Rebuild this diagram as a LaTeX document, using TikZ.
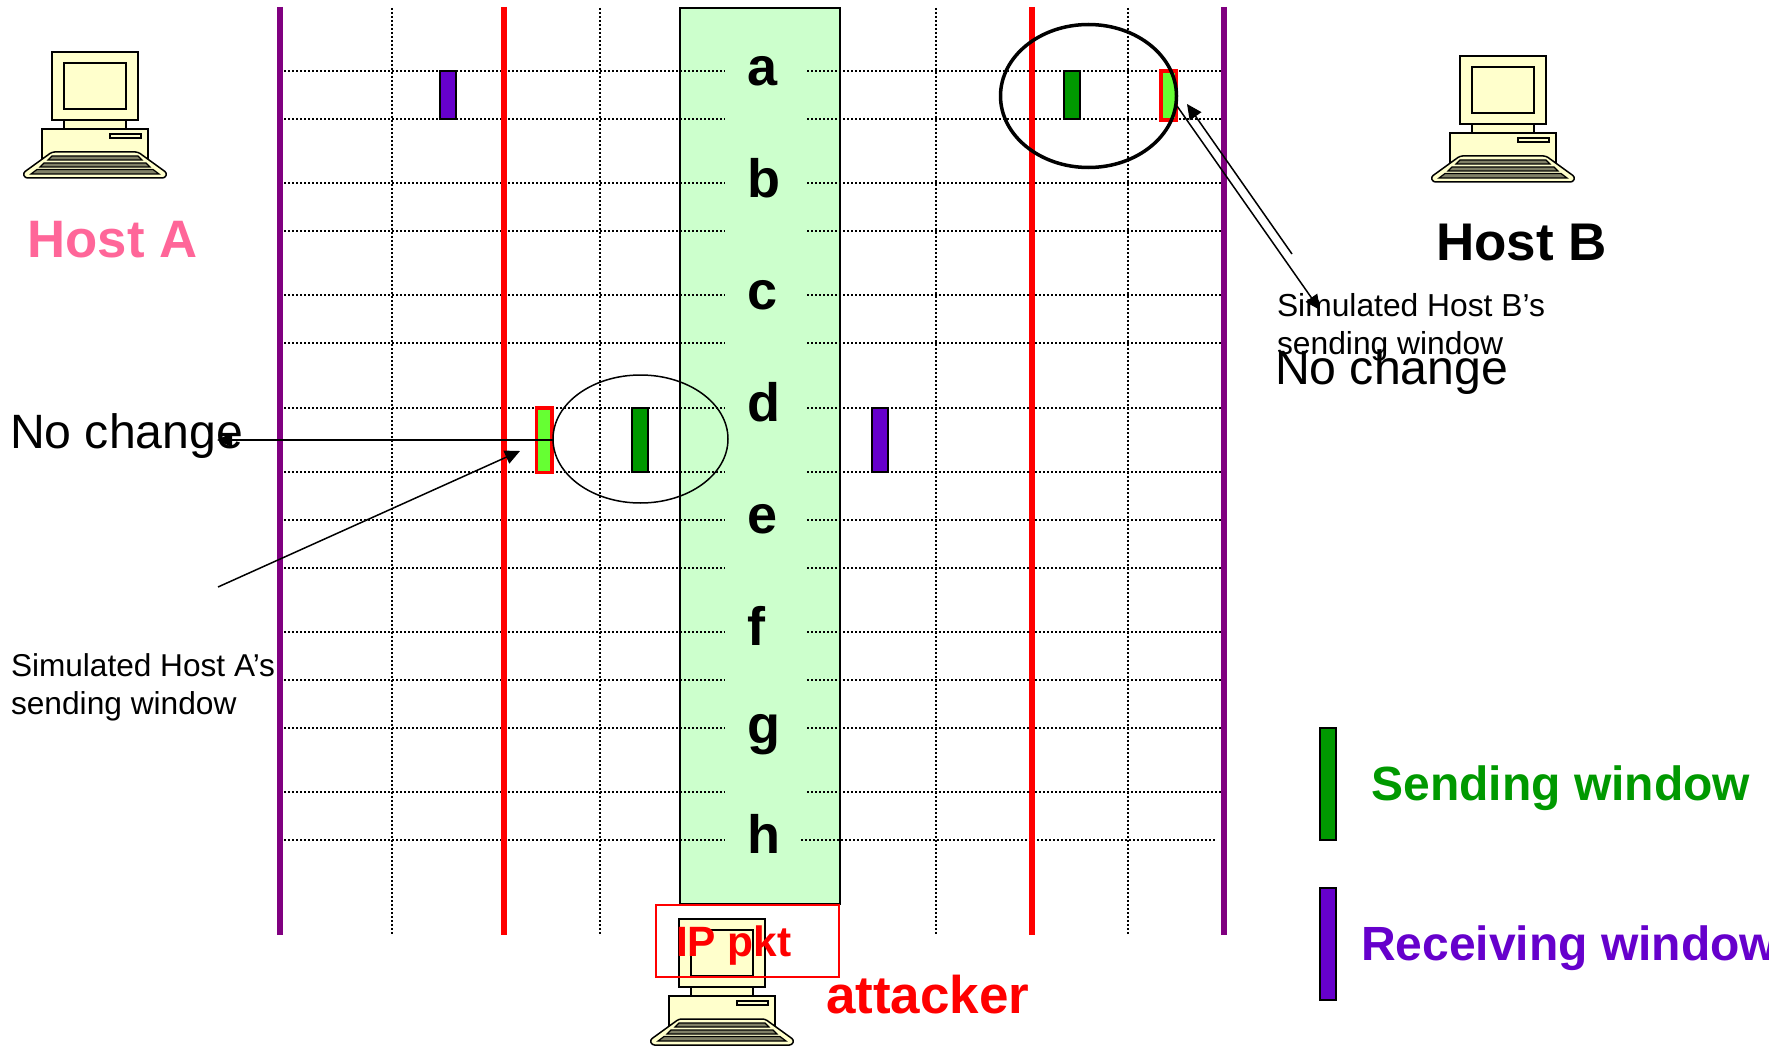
\documentclass[tikz,border=0pt]{standalone}
\usepackage{fontspec}
\setmainfont{Liberation Sans}
\usetikzlibrary{arrows.meta}
\definecolor{boxgreen}{HTML}{CCFFCC}
\definecolor{vpurple}{HTML}{800080}
\definecolor{brightgreen}{HTML}{66FF33}
\definecolor{sendgreen}{HTML}{009900}
\definecolor{recvpurple}{HTML}{6600CC}
\definecolor{hostpink}{HTML}{FF6699}
\definecolor{cream}{HTML}{FFFFCC}
\definecolor{keygray}{HTML}{808066}
\newcommand{\fs}[1]{\fontsize{#1}{#1}\selectfont}
\tikzset{
  x=1pt,y=-1pt,
  txt/.style={inner sep=0pt,outer sep=0pt,anchor=base west},
  letter/.style={inner sep=0pt,outer sep=0pt,anchor=base,font=\fs{54}\bfseries},
  grid/.style={black,line width=2pt,dash pattern=on 2pt off 2pt},
  purplev/.style={vpurple,line width=6pt},
  redv/.style={red,line width=6pt},
  sendwin/.style={draw=black,line width=2pt,fill=sendgreen,inner sep=0pt,outer sep=0pt,minimum width=16pt},
  recvwin/.style={draw=black,line width=2pt,fill=recvpurple,inner sep=0pt,outer sep=0pt,minimum width=16pt},
  simwin/.style={draw=red,line width=3.5pt,fill=brightgreen,inner sep=0pt,outer sep=0pt,minimum width=15.5pt},
  arrow/.style={black,line width=1.5pt,-{Triangle[length=15pt,width=14pt]}},
  computer/.pic={
    \begin{scope}[draw=black,line width=1.5pt,fill=cream]
      \filldraw (64,120) rectangle (126,129);
      \filldraw (42,129) rectangle (148,160);
      \filldraw (52,52) rectangle (138,120);
      \filldraw (64,63) rectangle (126,109);
      \draw[line width=1.2pt] (110,134) rectangle (141,138);
      \filldraw[rounded corners=2.5pt] (52,152) -- (138,152) -- (167,173) -- (165,178) -- (25,178) -- (23,173) -- cycle;
      \filldraw[fill=keygray,line width=1.2pt] (52,156) -- (138,156) -- (142,160) -- (48,160) -- cycle;
      \filldraw[fill=keygray,line width=1.2pt] (44,163) -- (146,163) -- (150,167) -- (40,167) -- cycle;
      \filldraw[fill=keygray,line width=1.2pt] (37,169.5) -- (153,169.5) -- (159,174) -- (31,174) -- cycle;
    \end{scope}
  }
}
\begin{document}
\begin{tikzpicture}
\useasboundingbox (0,0) rectangle (1792,1046);
\fill[white] (0,0) rectangle (1792,1046);

% central box
\node[draw=black,line width=2pt,fill=boxgreen,inner sep=0pt,outer sep=0pt,minimum width=160pt,minimum height=896pt] (attackbox) at (760,456) {};

% computers
\pic (pcC) at (627,867) {computer};
\pic (pcA) at (0,0) {computer};
\pic (pcB) at (1408,4) {computer};

% dotted vertical lines
\foreach \x in {392,600,936,1128}
  \draw[grid] (\x,8) -- (\x,934);

% dotted horizontal lines
\foreach \y in {71,119,183,231,295,343,408,472,520,568,632,680,728,792}{
  \draw[grid] (284,\y) -- (725,\y);
  \draw[grid] (807,\y) -- (1221,\y);
}
\draw[grid] (284,840) -- (725,840);
\draw[grid] (801,840) -- (1215,840);

% solid vertical lines
\draw[purplev] (280,7) -- (280,935);
\draw[purplev] (1224,7) -- (1224,935);
\draw[redv] (504,7) -- (504,935);
\draw[redv] (1032,7) -- (1032,935);

% letters
\node[letter] (la) at (763,85.5) {a};
\node[letter] (lb) at (764,197) {b};
\node[letter] (lc) at (763,309) {c};
\node[letter] (ld) at (764,421) {d};
\node[letter] (le) at (763,533) {e};
\node[letter] (lf) at (756,645) {f};
\node[letter] (lg) at (764,743) {g};
\node[letter] (lh) at (764,853) {h};

% windows
\node[recvwin,minimum height=48pt] (w1) at (448,95) {};
\node[sendwin,minimum height=48pt] (w2) at (1072,95) {};
\node[simwin,minimum height=49pt] (w3) at (1168.5,95.5) {};
\node[simwin,minimum height=64.5pt] (w4) at (544,440) {};
\node[sendwin,minimum height=64pt] (w5) at (640,440) {};
\node[recvwin,minimum height=64pt] (w6) at (880,440) {};
\node[sendwin,minimum height=112pt] (w7) at (1328,784) {};
\node[recvwin,minimum height=112pt] (w8) at (1328,944) {};

% ellipses
\draw[black,line width=3.5pt] (1088.5,96) ellipse [x radius=88pt,y radius=71.5pt];
\draw[black,line width=1.5pt] (640.5,439) ellipse [x radius=87.5pt,y radius=64pt];
\coordinate (ecR) at (553,440);

% text
\node[txt,text=hostpink,font=\fs{52.7}\bfseries] (hostA) at (27.5,257) {Host A};
\node[txt,font=\fs{53}\bfseries] (hostB) at (1436,260.5) {Host B};
\node[txt,font=\fs{48.2}] (ncL) at (10,448) {No change};
\node[txt,font=\fs{48.2}] (ncR) at (1275,384) {No change};
\node[txt,font=\fs{31.6}] (simA1) at (11,676) {Simulated Host A’s};
\node[txt,font=\fs{31.7}] (simA2) at (11,714) {sending window};
\node[txt,font=\fs{31.8}] (simB1) at (1277,316) {Simulated Host B’s};
\node[txt,font=\fs{31.8}] (simB2) at (1277,354) {sending window};
\node[txt,text=sendgreen,font=\fs{48}\bfseries] (lsend) at (1371.5,800) {Sending window};
\begin{scope}
  \clip (0,0) rectangle (1768.5,1046);
  \node[txt,text=recvpurple,font=\fs{48}\bfseries] (lrecv) at (1361,960) {Receiving window};
\end{scope}
\node[txt,text=red,font=\fs{53}\bfseries] (att) at (826,1013) {attacker};

% packet
\node[draw=red,line width=2pt,inner sep=0pt,minimum width=183pt,minimum height=72pt] (pkt) at (747.5,941) {};
\node[txt,text=red,font=\fs{42.4}\bfseries] (pktl) at (676,956) {IP pkt};

% arrows
\coordinate (aLs) at (218,587);
\coordinate (aLe) at (520,451);
\coordinate (ncLe) at (217,440);
\coordinate (aRs) at (1292,254);
\coordinate (aRe) at (1187,104);
\coordinate (bRs) at (1177,106);
\coordinate (bRe) at (1320,310);
\draw[arrow] (ecR) -- (ncLe);
\draw[arrow] (aLs) -- (aLe);
\draw[arrow] (aRs) -- (aRe);
\draw[arrow] (bRs) -- (bRe);
\end{tikzpicture}
\end{document}
